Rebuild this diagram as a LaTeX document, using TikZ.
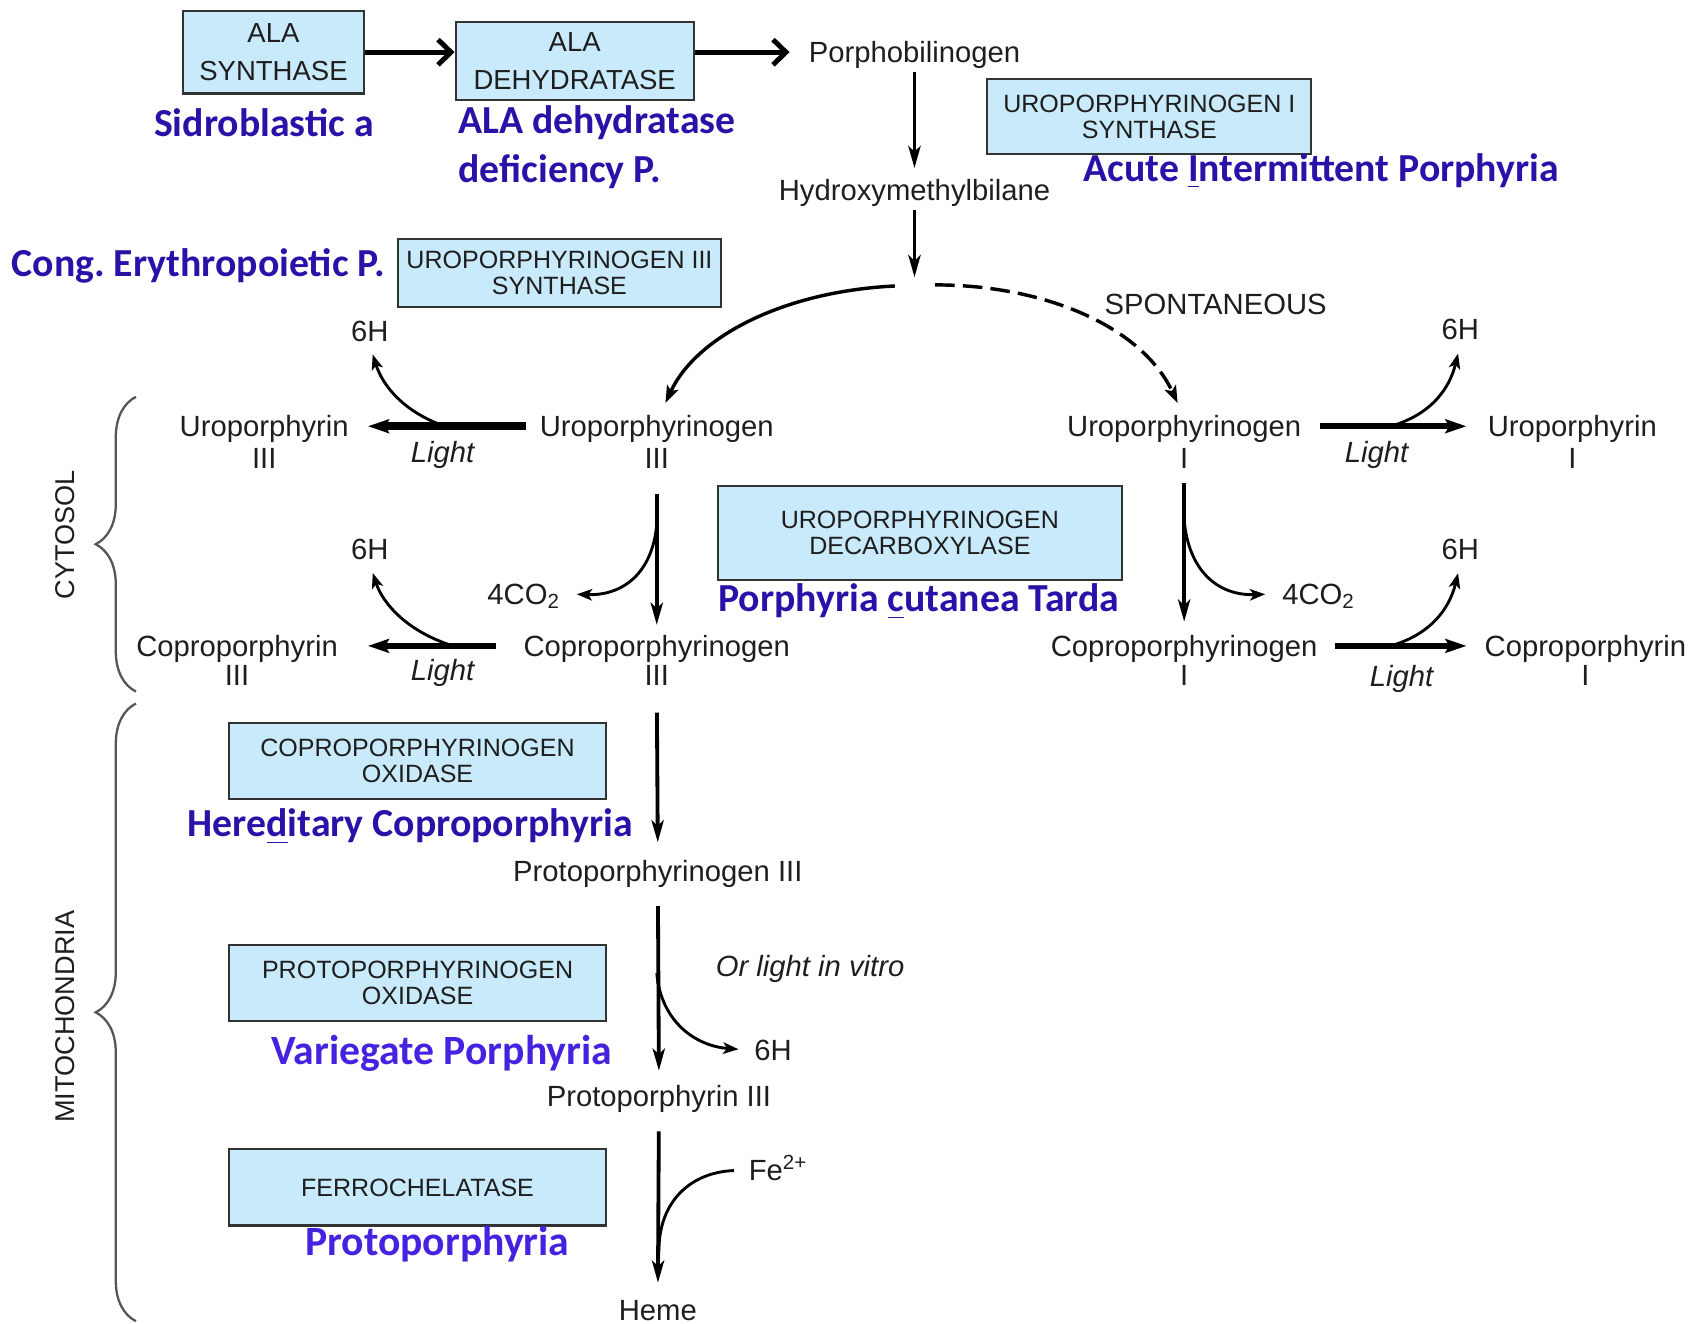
\documentclass[tikz,border=0pt]{standalone}
\usepackage{fontspec}
\setmainfont{Liberation Sans}
\newfontfamily\lblfont{Carlito}
\usetikzlibrary{arrows.meta,decorations.pathreplacing}
\frenchspacing

\definecolor{boxfill}{HTML}{C8EAFA}
\definecolor{boxline}{HTML}{333333}
\definecolor{ink}{HTML}{1E1E1E}
\definecolor{dkblue}{HTML}{2A12A8}
\definecolor{ltblue}{HTML}{4522E0}

\begin{document}
\begin{tikzpicture}[x=0.1mm,y=-0.1mm,
  met/.style={inner sep=0pt, text height=6.35pt, text depth=0.85pt, text=ink,
    font=\fontsize{7.65}{8.3}\selectfont},
  metit/.style={met, font=\fontsize{7.65}{8.3}\selectfont\itshape},
  enz/.style={draw=boxline, line width=0.55pt, fill=boxfill, inner sep=0pt,
    align=center, text=ink, font=\fontsize{6.55}{6.83}\selectfont},
  alabox/.style={enz, font=\fontsize{7.2}{10}\selectfont},
  dis/.style={inner sep=0pt, anchor=west, align=left, text=dkblue, yshift=-0.7pt,
    font=\lblfont\bfseries\fontsize{10.4}{12.8}\selectfont},
  dis2/.style={dis, text=ltblue, font=\lblfont\bfseries\fontsize{10.9}{12.8}\selectfont},
  side/.style={inner sep=0pt, rotate=90, text=ink,
    font=\fontsize{7.1}{8}\selectfont},
  varrow/.style={line width=1pt, -{Stealth[length=5.8pt,width=3.2pt,inset=1.5pt]}},
  toparrow/.style={line width=1.3pt, -{Straight Barb[length=3.4pt,width=6.6pt]}},
  lightarrow/.style={line width=1.6pt, -{Stealth[length=5.5pt,width=3.6pt,inset=1pt]}},
  twig/.style={line width=0.75pt, -{Stealth[length=4pt,width=3pt,inset=1pt]}},
  arc/.style={line width=0.9pt, -{Stealth[length=4.5pt,width=3.2pt,inset=1pt]}},
  brc/.style={decorate, decoration={brace, amplitude=3.7mm}, draw=ink!75, line width=0.6pt},
]
\useasboundingbox (0,0) rectangle (1568,1217);

% ---------- enzymes ----------
\node[alabox, minimum width=16.7mm, minimum height=7.6mm] (alas) at (251.5,48) {ALA\\SYNTHASE};
\node[alabox, minimum width=21.9mm, minimum height=7.2mm] (alad) at (528.5,56) {ALA\\DEHYDRATASE};
\node[enz, minimum width=29.8mm, minimum height=6.9mm] (uros1) at (1057,107.5) {UROPORPHYRINOGEN I\\SYNTHASE};
\node[enz, minimum width=29.7mm, minimum height=6.2mm] (uros3) at (514.5,251) {UROPORPHYRINOGEN III\\SYNTHASE};
\node[enz, minimum width=37.2mm, minimum height=8.6mm] (urod) at (846,490) {UROPORPHYRINOGEN\\DECARBOXYLASE};
\node[enz, minimum width=34.6mm, minimum height=7mm] (cpox) at (384,700) {COPROPORPHYRINOGEN\\OXIDASE};
\node[enz, minimum width=34.6mm, minimum height=7mm] (ppox) at (384,904) {PROTOPORPHYRINOGEN\\OXIDASE};
\node[enz, minimum width=34.6mm, minimum height=7mm] (fech) at (384,1092) {FERROCHELATASE};

% ---------- disorders ----------
\node[dis] (d1) at (141,110) {Sidroblastic a};
\node[dis] (d2) at (421,132.5) {ALA dehydratase\\deficiency P.};
\node[dis] (d3) at (996,155) {Acute \underline{I}ntermittent Porphyria};
\node[dis] (d4) at (10,242) {Cong. Erythropoietic P.};
\node[dis] (d5) at (660,551) {Porphyria \underline{c}utanea Tarda};
\node[dis] (d6) at (172,758) {Here\underline{d}itary Coproporphyria};
\node[dis2] (d7) at (249,966) {Variegate Porphyria};
\node[dis2] (d8) at (280,1142) {Protoporphyria};

% ---------- metabolites ----------
\node[met] (pbg) at (841,48) {Porphobilinogen};
\node[met] (hmb) at (841,175) {Hydroxymethylbilane};
\node[met] (uro3) at (604,392) {Uroporphyrinogen};
\node[met] (uro3n) at (604,421) {III};
\node[met] (uro1) at (1089,392) {Uroporphyrinogen};
\node[met] (uro1n) at (1089,421) {I};
\node[met] (urop3) at (243,392) {Uroporphyrin};
\node[met] (urop3n) at (243,421) {III};
\node[met] (urop1) at (1446,392) {Uroporphyrin};
\node[met] (urop1n) at (1446,421) {I};
\node[met] (cop3) at (604,594) {Coproporphyrinogen};
\node[met] (cop3n) at (604,621) {III};
\node[met] (cop1) at (1089,594) {Coproporphyrinogen};
\node[met] (cop1n) at (1089,621) {I};
\node[met] (copp3) at (218,594) {Coproporphyrin};
\node[met] (copp3n) at (218,621) {III};
\node[met] (copp1) at (1458,594) {Coproporphyrin};
\node[met] (copp1n) at (1458,621) {I};
\node[met] (ppgen) at (605,801) {Protoporphyrinogen III};
\node[met] (pp) at (606,1008) {Protoporphyrin III};
\node[met] (heme) at (605,1205) {Heme};

% side products and conditions
\node[met] (h6a) at (340,304) {6H};
\node[met] (h6b) at (1343,303) {6H};
\node[met] (h6c) at (340,505) {6H};
\node[met] (h6d) at (1343,505) {6H};
\node[met] (h6e) at (711,966) {6H};
\node[met] (co2a) at (482,546) {4CO\textsubscript{2}};
\node[met] (co2b) at (1213,546) {4CO\textsubscript{2}};
\node[met, anchor=west] (fe) at (688,1076) {Fe\textsuperscript{2+}};
\node[met] (spont) at (1118,280) {SPONTANEOUS};
\node[metit] (l1) at (407,416) {Light};
\node[metit] (l2) at (1266,416) {Light};
\node[metit] (l3) at (407,616) {Light};
\node[metit] (l4) at (1289,622) {Light};
\node[metit] (vitro) at (745,888) {Or light in vitro};

% compartments
\node[side] (cyt) at (60,492) {CYTOSOL};
\node[side] (mito) at (60,935) {MITOCHONDRIA};
\draw[brc] (125,636) -- (125,365);
\draw[brc] (125,1215) -- (125,647);

% ---------- connectors ----------
\draw[toparrow] (alas.east) -- (alad.west |- alas.east);
\draw[toparrow] (alad.east |- alas.east) -- ([xshift=-1.7mm]pbg.west);
\draw[varrow, shorten <=0.5mm, shorten >=0.7mm] (pbg.south) -- (hmb.north);

\coordinate (split) at (841,262);
\draw[varrow, shorten <=0.5mm, shorten >=0.7mm] (hmb.south) -- (split);
\coordinate (arcL) at (823,263);
\coordinate (arcR) at (860,262);
\draw[arc] (arcL) .. controls (720,268) and (640,310) .. ([xshift=0.8mm,yshift=0.8mm]uro3.north);
\draw[arc, dash pattern=on 1.8mm off 0.75mm] (arcR) .. controls (960,262) and (1050,300) .. ([xshift=-0.6mm,yshift=0.8mm]uro1.north);

% photo-oxidation, left
\draw[lightarrow, line width=2.2pt, shorten <=1.15mm, shorten >=1.7mm] (uro3.west) -- (urop3.east);
\coordinate (b1) at (412,393);
\draw[twig, shorten >=0.9mm] (b1) .. controls (372,380) and (352,355) .. (h6a.south);
\draw[lightarrow, shorten <=2.5mm, shorten >=2.7mm] (cop3.west) -- (copp3.east);
\coordinate (b3) at (420,595);
\draw[twig, shorten >=0.9mm] (b3) .. controls (375,582) and (352,555) .. (h6c.south);

% photo-oxidation, right
\draw[lightarrow, shorten <=1.7mm, shorten >=1.9mm] (uro1.east) -- (urop1.west);
\coordinate (b2) at (1275,393);
\draw[twig, shorten >=0.9mm] (b2) .. controls (1315,383) and (1333,358) .. (h6b.south);
\draw[lightarrow, shorten <=1.5mm, shorten >=1.6mm] (cop1.east) -- (copp1.west);
\coordinate (b4) at (1275,595);
\draw[twig, shorten >=0.9mm] (b4) .. controls (1315,585) and (1333,560) .. (h6d.south);

% decarboxylation
\draw[varrow, shorten <=2mm, shorten >=0.6mm] (uro3n.south) -- (cop3.north);
\coordinate (br1) at (604,482);
\draw[twig, shorten >=1.4mm] (br1) .. controls (600,528) and (572,548) .. (co2a.east);
\draw[varrow, shorten <=1mm, shorten >=0.9mm] (uro1n.south) -- (cop1.north);
\coordinate (br2) at (1089,478);
\draw[twig, shorten >=1.5mm] (br2) .. controls (1093,525) and (1120,548) .. (co2b.west);

% mitochondrial steps
\draw[varrow, shorten <=2.1mm, shorten >=1.3mm] (cop3n.south) -- (ppgen.north);
\draw[varrow, shorten <=1.9mm, shorten >=1mm] (ppgen.south) -- (pp.north);
\coordinate (br3) at (604,895);
\draw[twig, shorten >=1.4mm] (br3) .. controls (608,940) and (640,962) .. (h6e.west);
\draw[varrow, shorten <=1.9mm, shorten >=1.2mm] (pp.south) -- (heme.north);
\coordinate (br4) at (606,1150);
\draw[line width=0.75pt, shorten <=1.3mm] (fe.west) .. controls (635,1078) and (606,1105) .. (br4);
\end{tikzpicture}
\end{document}
